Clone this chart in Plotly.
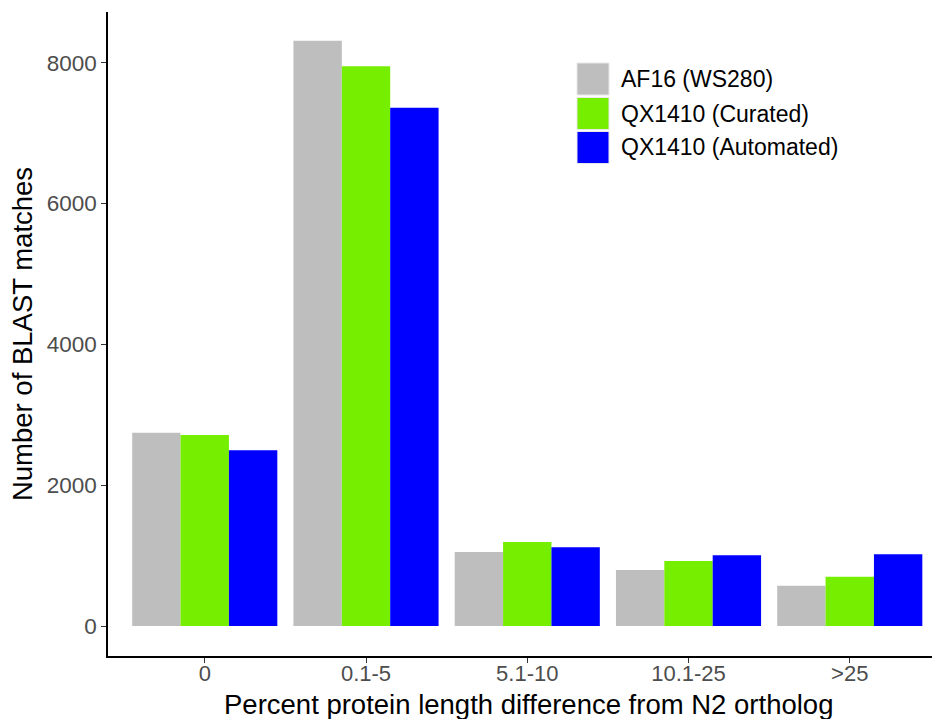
import plotly.graph_objects as go

categories = ["0", "0.1-5", "5.1-10", "10.1-25", ">25"]
af16 = [2746, 8314, 1051, 795, 572]
qx_curated = [2713, 7950, 1193, 923, 700]
qx_auto = [2496, 7362, 1118, 1004, 1018]
series_names = ["AF16 (WS280)", "QX1410 (Curated)", "QX1410 (Automated)"]
colors = ["#BEBEBE", "#76EE00", "#0000FF"]

FONT = "Liberation Sans, Arial, sans-serif"
fig = go.Figure()
for name, vals, col in zip(series_names, [af16, qx_curated, qx_auto], colors):
    fig.add_trace(go.Bar(x=categories, y=vals, name=name, marker=dict(color=col, line=dict(width=0)),
                         showlegend=False))

W, H = 932, 719
L, R, T, B = 108, 0, 12, 63
pw, ph = W - L - R, H - T - B

def px(x):
    return (x - L) / pw

def py(y):
    return (H - B - y) / ph

# manual legend
key_tops = [63, 97.5, 131.5]
for i, (name, col) in enumerate(zip(series_names, colors)):
    y0 = key_tops[i]
    fig.add_shape(type="rect", xref="paper", yref="paper",
                  x0=px(577), x1=px(609), y0=py(y0 + 32), y1=py(y0),
                  fillcolor=col, line=dict(color="#E8E8E8", width=1))
    fig.add_annotation(xref="paper", yref="paper", x=px(619), y=py(y0 + 16),
                       text=name, showarrow=False, xanchor="left", yanchor="middle",
                       font=dict(family=FONT, size=23, color="black"))

# x axis title
fig.add_annotation(xref="paper", yref="paper", x=px(528), y=py(704),
                   text="Percent protein length difference from N2 ortholog",
                   showarrow=False, xanchor="center", yanchor="middle",
                   font=dict(family=FONT, size=27.5, color="black"))

fig.update_layout(
    width=W, height=H,
    margin=dict(l=L, r=R, t=T, b=B),
    plot_bgcolor="white", paper_bgcolor="white",
    barmode="group", bargap=0.1, bargroupgap=0,
    font=dict(family=FONT),
)
fig.update_xaxes(
    range=[-0.6, 4.51], showline=True, linecolor="black", linewidth=1.6,
    ticks="outside", ticklen=5, tickcolor="#333333", tickwidth=1.2,
    tickfont=dict(size=22, color="#4D4D4D", family=FONT),
    ticklabelstandoff=-8,
    showgrid=False, zeroline=False,
)
fig.update_yaxes(
    range=[-426, 8722], showline=True, linecolor="black", linewidth=1.6,
    tickvals=[0, 2000, 4000, 6000, 8000],
    ticks="outside", ticklen=5, tickcolor="#333333", tickwidth=1.2,
    tickfont=dict(size=22.5, color="#4D4D4D", family=FONT),
    title=dict(text="Number of BLAST matches",
               font=dict(size=27.5, color="black", family=FONT), standoff=6),
    showgrid=False, zeroline=False,
)

fig.write_html("out.html")
